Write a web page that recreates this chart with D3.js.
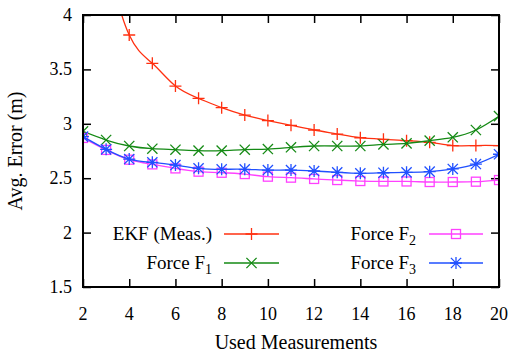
<!DOCTYPE html>
<html><head><meta charset="utf-8">
<script src="https://cdn.jsdelivr.net/npm/d3@7/dist/d3.min.js"></script>
<style>
body{margin:0;background:#fff}
</style></head>
<body><svg id="c" width="508" height="352" font-family="Liberation Serif"></svg>
<script>
const xs = [2,3,4,5,6,7,8,9,10,11,12,13,14,15,16,17,18,19,20];
const ekf = [5.9,4.6,3.816,3.556,3.347,3.234,3.148,3.08,3.03,2.986,2.943,2.906,2.872,2.857,2.845,2.83,2.80,2.80,2.80];
const f1  = [2.93,2.851,2.796,2.771,2.762,2.753,2.753,2.762,2.768,2.784,2.796,2.796,2.796,2.81,2.82,2.845,2.876,2.943,3.07];
const f2  = [2.87,2.76,2.67,2.627,2.59,2.56,2.55,2.538,2.514,2.505,2.493,2.483,2.474,2.47,2.47,2.465,2.465,2.468,2.483];
const f3  = [2.882,2.765,2.676,2.646,2.621,2.591,2.582,2.582,2.575,2.575,2.566,2.554,2.545,2.55,2.554,2.56,2.585,2.63,2.72];
const xTicks = [2,4,6,8,10,12,14,16,18,20];
const yTicks = [1.5,2,2.5,3,3.5,4];
const yTickLabels = ["1.5","2","2.5","3","3.5","4"];
const seriesNames = ["EKF (Meas.)","Force F","Force F","Force F"];
const seriesSubs = ["","1","2","3"];
const colors = ["#ff3010","#158a15","#ff40ff","#2050ff"];
const markers = ["plus","cross","square","star"];

const svg = d3.select("#c");
const L=83,R=499,T=15,B=287;
const x = d3.scaleLinear().domain([2,20]).range([L,R]);
const y = d3.scaleLinear().domain([1.5,4]).range([B,T]);

svg.append("defs").append("clipPath").attr("id","clip")
  .append("rect").attr("x",L).attr("y",T).attr("width",R-L).attr("height",B-T);

const tl=8;
const gx = svg.append("g").attr("transform",`translate(0,${B})`)
  .call(d3.axisBottom(x).tickValues(xTicks).tickSizeInner(-tl).tickSizeOuter(0).tickFormat(""));
const gxt = svg.append("g").attr("transform",`translate(0,${T})`)
  .call(d3.axisTop(x).tickValues(xTicks).tickSizeInner(-tl).tickSizeOuter(0).tickFormat(""));
const gy = svg.append("g").attr("transform",`translate(${L},0)`)
  .call(d3.axisLeft(y).tickValues(yTicks).tickSizeInner(-tl).tickSizeOuter(0).tickFormat(""));
const gyr = svg.append("g").attr("transform",`translate(${R},0)`)
  .call(d3.axisRight(y).tickValues(yTicks).tickSizeInner(-tl).tickSizeOuter(0).tickFormat(""));
[gx,gxt,gy,gyr].forEach(g=>{g.select(".domain").remove();g.selectAll("line").attr("stroke","#000").attr("stroke-width",1.5);g.attr("font-family",null);});

const FF="Liberation Serif";
svg.append("g").selectAll("text").data(xTicks).join("text").style("font-family",FF)
  .attr("x",d=>x(d)).attr("y",320).attr("text-anchor","middle").attr("font-size",18).text(d=>d);
svg.append("g").selectAll("text").data(yTicks).join("text").style("font-family",FF)
  .attr("x",72).attr("y",d=>y(d)+6).attr("text-anchor","end").attr("font-size",18).text((d,i)=>yTickLabels[i]);

svg.append("text").style("font-family",FF).attr("x",(L+R)/2+5).attr("y",349).attr("text-anchor","middle").attr("font-size",20).text("Used Measurements");
svg.append("text").style("font-family",FF).attr("transform",`translate(22,${(T+B)/2}) rotate(-90)`).attr("text-anchor","middle").attr("font-size",20).text("Avg. Error (m)");

function marker(g,type,cx,cy,color){
  const s=6;
  if(type==="plus"){
    g.append("path").attr("d",`M${cx-s},${cy}H${cx+s}M${cx},${cy-s}V${cy+s}`).attr("stroke",color).attr("stroke-width",1.3).attr("fill","none");
  } else if(type==="cross"){
    const t=s*0.85;
    g.append("path").attr("d",`M${cx-t},${cy-t}L${cx+t},${cy+t}M${cx-t},${cy+t}L${cx+t},${cy-t}`).attr("stroke",color).attr("stroke-width",1.3).attr("fill","none");
  } else if(type==="square"){
    const h=4.5;
    g.append("rect").attr("x",cx-h).attr("y",cy-h).attr("width",2*h).attr("height",2*h).attr("stroke",color).attr("stroke-width",1.3).attr("fill","none");
  } else {
    const t=s*0.85;
    g.append("path").attr("d",`M${cx-s},${cy}H${cx+s}M${cx},${cy-s}V${cy+s}M${cx-t},${cy-t}L${cx+t},${cy+t}M${cx-t},${cy+t}L${cx+t},${cy-t}`).attr("stroke",color).attr("stroke-width",1.3).attr("fill","none");
  }
}

const data=[ekf,f1,f2,f3];
const plot = svg.append("g").attr("clip-path","url(#clip)");
const line = d3.line().x((d,i)=>x(xs[i])).y(d=>y(d)).curve(d3.curveNatural);
data.forEach((vals,k)=>{
  plot.append("path").attr("d",line(vals)).attr("fill","none").attr("stroke",colors[k]).attr("stroke-width",1.3);
  const mg = plot.append("g");
  vals.forEach((v,i)=>marker(mg,markers[k],x(xs[i]),y(v),colors[k]));
});

const legPos=[{tx:212,x1:224,x2:279,ly:234},{tx:212,x1:224,x2:279,ly:263},{tx:416,x1:429,x2:483,ly:234},{tx:416,x1:429,x2:483,ly:263}];
seriesNames.forEach((n,k)=>{
  const p=legPos[k];
  const t=svg.append("text").style("font-family",FF).attr("x",p.tx).attr("y",p.ly+6).attr("text-anchor","end").attr("font-size",19);
  t.append("tspan").text(n);
  if(seriesSubs[k]) t.append("tspan").attr("font-size",14).attr("dy",5).text(seriesSubs[k]);
  svg.append("line").attr("x1",p.x1).attr("x2",p.x2).attr("y1",p.ly).attr("y2",p.ly).attr("stroke",colors[k]).attr("stroke-width",1.3);
  marker(svg,markers[k],(p.x1+p.x2)/2,p.ly,colors[k]);
});

svg.append("rect").attr("x",L).attr("y",T).attr("width",R-L).attr("height",B-T).attr("fill","none").attr("stroke","#000").attr("stroke-width",2);
</script></body></html>
